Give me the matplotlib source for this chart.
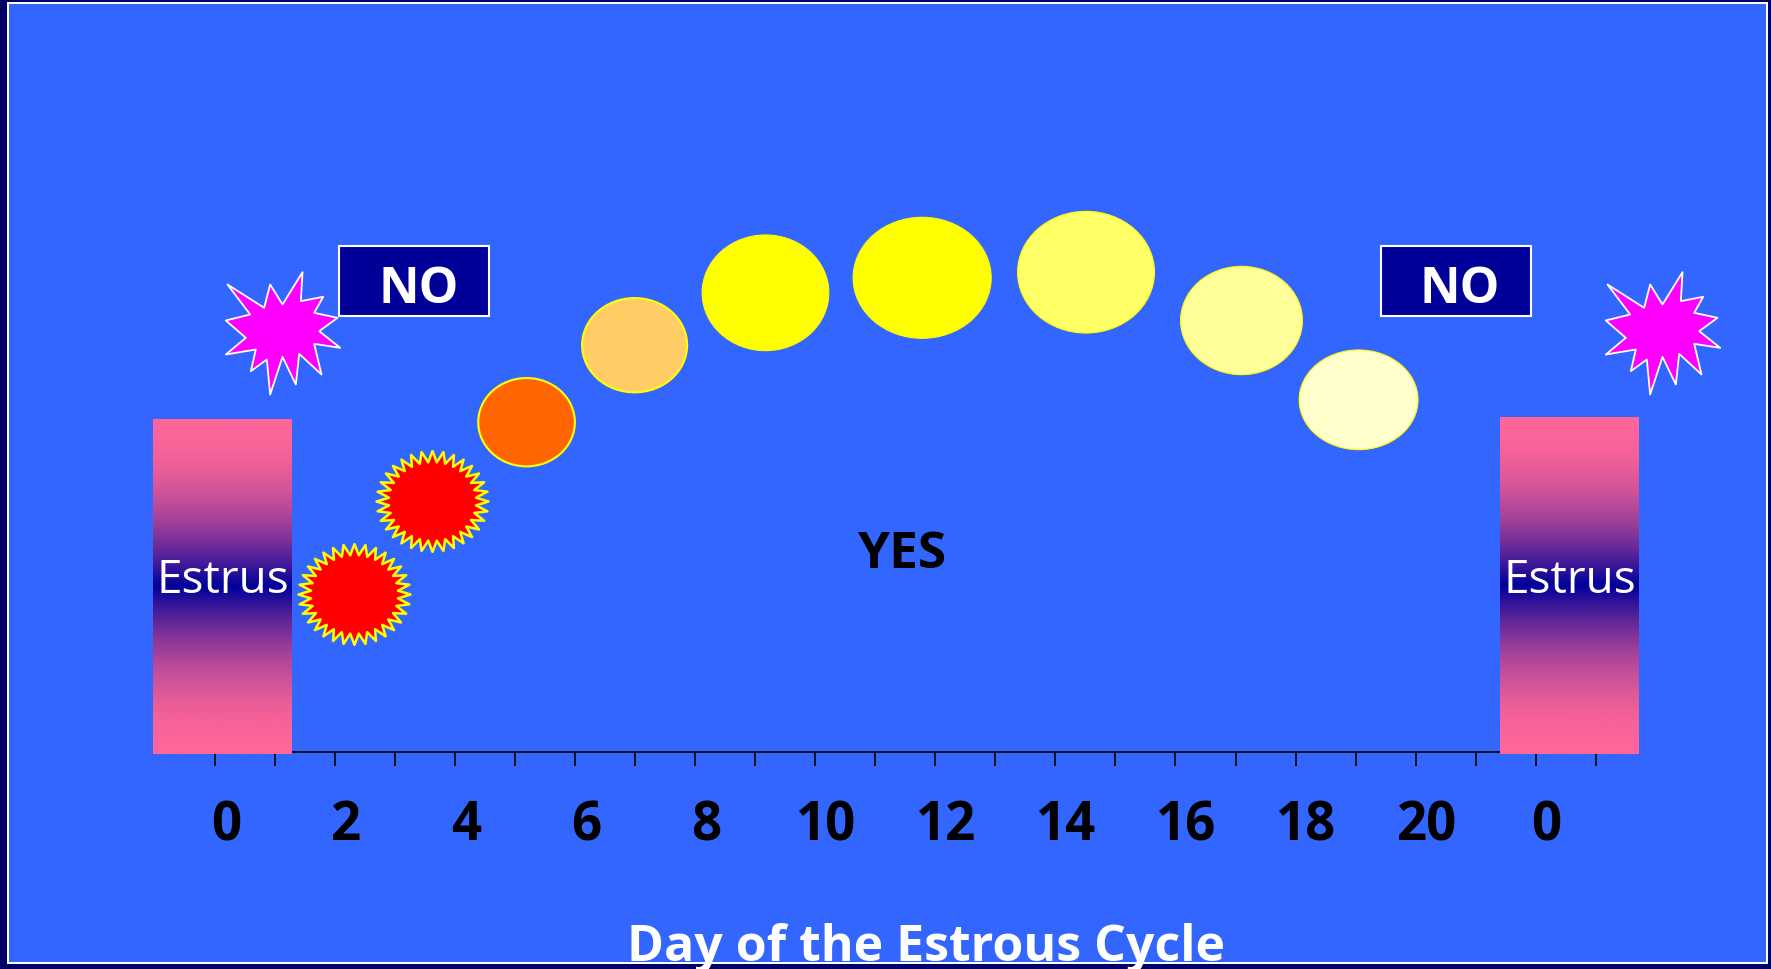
import numpy as np
import matplotlib.pyplot as plt
from matplotlib.patches import Ellipse, Rectangle
from matplotlib.path import Path
from matplotlib.transforms import ScaledTranslation

plt.rcParams['font.family'] = ['Open Sans', 'DejaVu Sans']

# axis: one tick per day, labels every 2 days, cycle restarts at 0
tick_days = list(range(24))
label_days = [0, 2, 4, 6, 8, 10, 12, 14, 16, 18, 20, 22]
label_text = ['0', '2', '4', '6', '8', '10', '12', '14', '16', '18', '20', '0']

# follicles (day, height, width in days, height in y units)
foll_day = [5.19, 6.99, 9.17, 11.78, 14.51, 17.10, 19.05]
foll_y = [32.95, 40.65, 45.89, 47.39, 47.95, 43.12, 35.19]
foll_w = [1.61, 1.75, 2.11, 2.30, 2.28, 2.03, 1.98]
foll_h = [8.83, 9.43, 11.57, 12.10, 12.17, 10.83, 9.97]
foll_color = ['#FF6600', '#FFCC66', '#FFFF00', '#FFFF00', '#FFFF66', '#FFFF99', '#FFFFCC']
foll_edge = [1.5, 1.5, 0.8, 0.8, 0.8, 0.8, 0.8]

# ovulation bursts
ovul_day = [2.31, 3.62]
ovul_y = [15.77, 25.07]

# heat stars
heat_day = [1.11, 24.11]
heat_y = [41.77, 41.77]

# estrus bars
estrus_left = [-1.03, 21.41]
estrus_right = [1.28, 23.72]
estrus_top = [33.3, 33.5]
estrus_bottom = -0.2

# NO boxes
no_left = [2.06, 19.42]
no_right = [4.56, 21.93]
no_text_x = [3.40, 20.73]
no_bottom, no_top = 43.57, 50.62

W, H = 1771, 970
fig = plt.figure(figsize=(W / 100, H / 100), dpi=100, facecolor='#000066')
fig.patches.append(Rectangle((7 / W, 1 - 965 / H), 1761 / W, 962 / H, transform=fig.transFigure,
                             facecolor='white', edgecolor='none', zorder=-10))
fig.patches.append(Rectangle((9 / W, 1 - 963 / H), 1757 / W, 958 / H, transform=fig.transFigure,
                             facecolor='#3366FF', edgecolor='none', zorder=-9))

ax = fig.add_axes([0, 0, 1, 1])
ax.set_facecolor('none')

# estrus gradient bars
n = 256
f = np.linspace(0, 1, n)
m = (1 - np.abs(2 * f - 1)) ** 2
pink = np.array([1.0, 0.4, 0.6])
dark = np.array([0.0, 0.0, 0.6])
grad = (pink[None, :] * (1 - m[:, None]) + dark[None, :] * m[:, None])[:, None, :]
for l, r, top in zip(estrus_left, estrus_right, estrus_top):
    ax.imshow(grad, extent=(l, r, estrus_bottom, top), aspect='auto', origin='upper',
              interpolation='bilinear', zorder=3)
    ax.text((l + r) / 2, 15.94, 'Estrus', color='white', fontsize=33,
            ha='center', va='baseline', zorder=4)

# follicles
for d, y, w, h, c, lw in zip(foll_day, foll_y, foll_w, foll_h, foll_color, foll_edge):
    ax.add_patch(Ellipse((d, y), w, h, facecolor=c, edgecolor='yellow', lw=lw, zorder=3))

# 32-point burst marker
k = 32
ang = np.pi / 2 + np.arange(2 * k) * np.pi / k
rad = np.where(np.arange(2 * k) % 2 == 0, 1.0, 0.78)
bv = np.column_stack([rad * np.cos(ang), 0.9 * rad * np.sin(ang)])
burst = Path(np.vstack([bv, bv[:1]]), closed=True)
ax.plot(ovul_day, ovul_y, ls='none', marker=burst, ms=80.6, mfc='red', mec='yellow',
        mew=1.8, zorder=4)

# irregular explosion marker
ev = np.array([(290, 105), (400, 175), (418, 105), (455, 165), (515, 68), (510, 155),
               (577, 142), (550, 190), (620, 205), (565, 245), (628, 295), (550, 283),
               (572, 375), (505, 313), (495, 405), (455, 322), (418, 435), (408, 330),
               (360, 365), (375, 300), (285, 315), (345, 265), (285, 213), (358, 195)], float)
ev = np.column_stack([ev[:, 0] - 455, 255 - ev[:, 1]])
explosion = Path(np.vstack([ev, ev[:1]]), closed=True)
ax.plot(heat_day, heat_y, ls='none', marker=explosion, ms=89.8, mfc='#FF00FF', mec='white',
        mew=1.3, zorder=4)

# NO boxes
for l, r, tx in zip(no_left, no_right, no_text_x):
    ax.add_patch(Rectangle((l, no_bottom), r - l, no_top - no_bottom, facecolor='#000099',
                           edgecolor='white', lw=1.5, zorder=3))
    ax.text(tx, 45.0, 'NO', color='white', fontsize=36, fontweight='bold',
            ha='center', va='baseline', zorder=4)

ax.text(11.44, 18.44, 'YES', color='black', fontsize=37, fontweight='bold',
        ha='center', va='baseline', zorder=4)

ax.text(11.84, -20.8, 'Day of the Estrous Cycle', color='white', fontsize=36,
        fontweight='bold', ha='center', va='baseline', zorder=10, clip_on=False)

# axis
ax.set_xlim(-215 / 60.03, (W - 215) / 60.03)
ax.set_ylim(-21.73, 75.27)
for s in ['left', 'right', 'top']:
    ax.spines[s].set_visible(False)
ax.spines['bottom'].set_position(('data', 0))
ax.spines['bottom'].set_bounds(0, 23)
ax.spines['bottom'].set_linewidth(1.2)
ax.spines['bottom'].set_color('black')
ax.set_yticks([])
ax.set_xticks(label_days)
ax.set_xticklabels(label_text)
ax.set_xticks([d for d in tick_days if d not in label_days], minor=True)
ax.tick_params(axis='x', which='both', direction='out', length=10.3, width=1.2, color='black')
ax.tick_params(axis='x', which='major', pad=52.6, labelsize=38, labelcolor='black')
offset = ScaledTranslation(11 / 100, 0, fig.dpi_scale_trans)
for lab in ax.get_xticklabels():
    lab.set_fontweight('bold')
    lab.set_verticalalignment('baseline')
    lab.set_transform(lab.get_transform() + offset)

fig.savefig('out.png', dpi=100, facecolor=fig.get_facecolor())
